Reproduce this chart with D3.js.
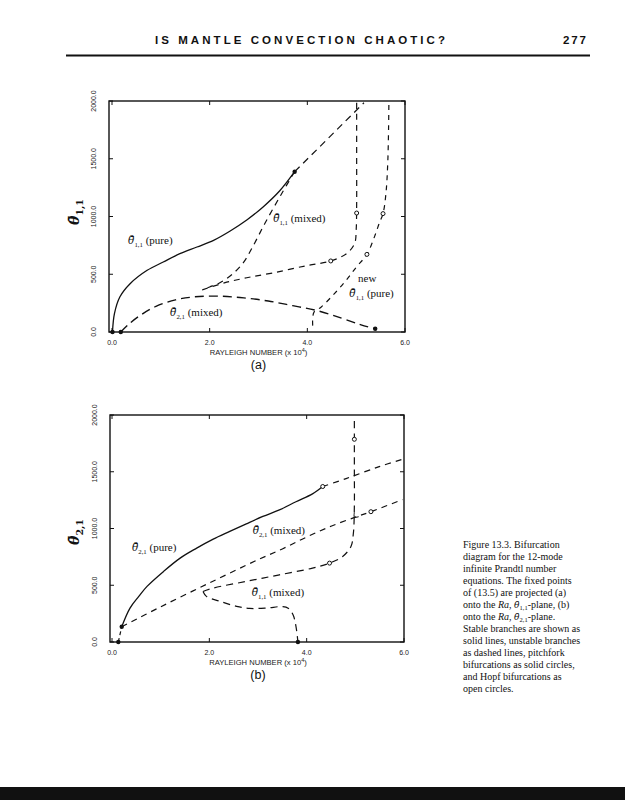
<!DOCTYPE html>
<html><head><meta charset="utf-8">
<script src="https://cdn.jsdelivr.net/npm/d3@7"></script>
<style>body{margin:0;background:#fff}</style>
</head><body>
<svg id="c" width="625" height="800"></svg>
<script>
// ---------- shared axis data ----------
const xTickValues = [0, 2, 4, 6];
const xTickLabels = ["0.0", "2.0", "4.0", "6.0"];
const yTickValues = [0, 500, 1000, 1500, 2000];
const yTickLabels = ["0.0", "500.0", "1000.0", "1500.0", "2000.0"];

// ---------- panel (a): Ra vs theta_1,1 ----------
const aPure11Stable = [[0.01,0],[0.05,159],[0.16,303],[0.37,418],[0.72,534],[1.05,606],[1.39,678],[1.74,736],[2.08,794],[2.42,875],[2.76,970],[3.1,1085],[3.44,1225],[3.74,1388]];
const aPure11Unstable = [[3.74,1388],[5.16,1985]];
const aMixed11Upper = [[3.74,1388],[3.45,1180],[3.13,940],[2.89,745],[2.69,600],[2.45,495],[2.2,425],[2.0,390],[1.85,365]];
const aMixed11Lower = [[1.85,365],[2.3,425],[2.76,470],[3.31,513],[3.99,575],[4.48,615],[4.81,681],[4.97,768],[5.0,883],[5.01,1100],[5.01,1500],[5.01,1985]];
const aMixed21 = [[0.18,0],[0.35,70],[0.6,150],[0.9,222],[1.3,278],[1.7,305],[2.2,310],[2.7,295],[3.2,268],[3.7,228],[4.2,185],[4.7,120],[5.1,62],[5.39,28]];
const aNewPure11 = [[4.11,55],[4.11,120],[4.14,175],[4.28,215],[4.55,330],[4.8,450],[5.0,560],[5.22,672],[5.38,830],[5.48,950],[5.55,1025],[5.61,1200],[5.65,1500],[5.67,1985]];
const aPitchfork = [[0.01,0],[0.18,0],[3.74,1388],[5.39,28]];
const aHopf = [[4.48,615],[5.01,1030],[5.22,672],[5.55,1025]];

// ---------- panel (b): Ra vs theta_2,1 ----------
const bStem = [[0.13,0],[0.2,135]];
const bPure21Stable = [[0.2,135],[0.37,299],[0.55,402],[0.72,490],[1.06,622],[1.4,739],[1.74,827],[2.08,906],[2.42,974],[2.76,1041],[3.1,1106],[3.44,1164],[3.78,1236],[4.12,1305],[4.33,1370]];
const bPure21Unstable = [[4.33,1370],[4.81,1440],[5.49,1545],[5.97,1610]];
const bMixed21 = [[0.2,135],[1.0,310],[2.0,520],[3.0,725],[3.5,820],[4.0,925],[4.5,1020],[5.0,1100],[5.32,1148],[5.97,1255]];
const bMixed11Upper = [[1.87,445],[2.08,475],[2.76,534],[3.44,592],[4.12,651],[4.47,695],[4.74,754],[4.91,842],[4.96,959],[4.98,1200],[4.98,1500],[4.98,1786],[4.98,1990]];
const bMixed11Lower = [[1.87,445],[1.94,402],[2.22,358],[2.56,314],[2.83,296],[3.17,299],[3.51,312],[3.62,298],[3.72,240],[3.78,138],[3.82,0]];
const bKink = [[4.98,1140],[4.98,1100],[5.07,1104]];
const bPitchfork = [[0.13,0],[0.2,135],[3.82,0]];
const bHopf = [[4.33,1370],[4.47,695],[4.98,1786],[5.32,1148]];

// ---------- caption ----------
const captionLines = [
  "Figure 13.3. Bifurcation",
  "diagram for the 12-mode",
  "infinite Prandtl number",
  "equations. The fixed points",
  "of (13.5) are projected (a)",
  "onto the |Ra|, θ̄|1,1|-plane, (b)",
  "onto the |Ra|, θ̄|2,1|-plane.",
  "Stable branches are shown as",
  "solid lines, unstable branches",
  "as dashed lines, pitchfork",
  "bifurcations as solid circles,",
  "and Hopf bifurcations as",
  "open circles."
];

const svg = d3.select("#c");
svg.append("rect").attr("width",625).attr("height",800).attr("fill","#fff");

// header
svg.append("text").attr("x",155).attr("y",44)
  .attr("font-family","Liberation Sans, Arial, sans-serif").attr("font-weight","bold")
  .attr("font-size",11.5).attr("textLength",290).attr("lengthAdjust","spacing")
  .attr("fill","#111").text("IS MANTLE CONVECTION CHAOTIC?");
svg.append("text").attr("x",563).attr("y",44)
  .attr("font-family","Liberation Sans, Arial, sans-serif").attr("font-weight","bold")
  .attr("font-size",11.5).attr("textLength",23).attr("lengthAdjust","spacing")
  .attr("fill","#111").text("277");
svg.append("line").attr("x1",66).attr("x2",590).attr("y1",55.5).attr("y2",55.5)
  .attr("stroke","#111").attr("stroke-width",2);

function thetaLabel(g, x, y, sub, rest, size) {
  const t = g.append("text").attr("x",x).attr("y",y)
    .attr("font-family","Liberation Serif, Times New Roman, serif")
    .attr("font-size",size).attr("fill","#111");
  t.append("tspan").attr("font-family","DejaVu Serif, serif").attr("font-style","italic")
    .attr("font-size",size*0.95).text("θ\u0304");
  t.append("tspan").attr("font-size",size*0.62).attr("dy",size*0.28).text(sub);
  if (rest) t.append("tspan").attr("dy",-size*0.28).text(rest);
  return t;
}

function panel(cfg) {
  const g = svg.append("g");
  const x = d3.scaleLinear().domain([0,6]).range([cfg.x0, cfg.x6]);
  const y = d3.scaleLinear().domain([0,2000]).range([cfg.y0, cfg.y2000]);
  const L = cfg.frameLeft, R = x(6), T = y(2000), B = y(0);

  g.append("rect").attr("x",L).attr("y",T).attr("width",R-L).attr("height",B-T)
    .attr("fill","none").attr("stroke","#111").attr("stroke-width",1.4);

  const tk = 4;
  xTickValues.forEach(v => {
    g.append("line").attr("x1",x(v)).attr("x2",x(v)).attr("y1",B).attr("y2",B-tk).attr("stroke","#111").attr("stroke-width",1);
    g.append("line").attr("x1",x(v)).attr("x2",x(v)).attr("y1",T).attr("y2",T+tk).attr("stroke","#111").attr("stroke-width",1);
  });
  yTickValues.forEach(v => {
    g.append("line").attr("x1",L).attr("x2",L+tk).attr("y1",y(v)).attr("y2",y(v)).attr("stroke","#111").attr("stroke-width",1);
    g.append("line").attr("x1",R).attr("x2",R-tk).attr("y1",y(v)).attr("y2",y(v)).attr("stroke","#111").attr("stroke-width",1);
  });

  xTickValues.forEach((v,i) => {
    g.append("text").attr("x",x(v)).attr("y",B+13).attr("text-anchor","middle")
      .attr("font-family","Liberation Sans, Arial, sans-serif").attr("font-size",7).attr("fill","#222")
      .text(xTickLabels[i]);
  });
  yTickValues.forEach((v,i) => {
    g.append("text").attr("transform",`translate(${L-13},${y(v)}) rotate(-90)`).attr("text-anchor","middle")
      .attr("font-family","Liberation Sans, Arial, sans-serif").attr("font-size",7).attr("fill","#222")
      .text(yTickLabels[i]);
  });

  const xt = g.append("text").attr("x",(x(0)+x(6))/2).attr("y",B+23).attr("text-anchor","middle")
    .attr("font-family","Liberation Sans, Arial, sans-serif").attr("font-size",7.6).attr("fill","#222");
  xt.append("tspan").text("RAYLEIGH NUMBER (x 10");
  xt.append("tspan").attr("font-size",5.5).attr("dy",-3).text("4");
  xt.append("tspan").attr("dy",3).text(")");
  g.append("text").attr("x",(x(0)+x(6))/2).attr("y",B+37).attr("text-anchor","middle")
    .attr("font-family","Liberation Sans, Arial, sans-serif").attr("font-size",12.5).attr("fill","#111")
    .text(cfg.tag);

  const yg = g.append("g").attr("transform",`translate(${cfg.yTitleX},${cfg.yTitleY}) rotate(-90)`);
  const yt = yg.append("text").attr("text-anchor","middle")
    .attr("font-family","DejaVu Serif, serif").attr("font-weight","bold").attr("font-size",14).attr("fill","#111");
  yt.append("tspan").attr("font-style","italic").text("θ\u0304");
  yt.append("tspan").attr("font-size",9.5).attr("dy",4).text(cfg.ySub);

  const line = d3.line().x(d=>x(d[0])).y(d=>y(d[1])).curve(d3.curveCatmullRom.alpha(0.5));
  cfg.series.forEach(s => {
    g.append("path").attr("d",line(s.data)).attr("fill","none").attr("stroke","#111")
      .attr("stroke-width",s.w||1.2).attr("stroke-dasharray",s.dash||null);
  });

  cfg.pitchfork.forEach(p => {
    g.append("circle").attr("cx",x(p[0])).attr("cy",y(p[1])).attr("r",2.2).attr("fill","#111");
  });
  cfg.hopf.forEach(p => {
    g.append("circle").attr("cx",x(p[0])).attr("cy",y(p[1])).attr("r",2).attr("fill","#fff")
      .attr("stroke","#111").attr("stroke-width",1);
  });

  cfg.labels.forEach(l => {
    if (l.plain) {
      g.append("text").attr("x",x(l.at[0])).attr("y",y(l.at[1]))
        .attr("font-family","Liberation Serif, Times New Roman, serif").attr("font-size",11).attr("fill","#111").text(l.plain);
    } else {
      thetaLabel(g, x(l.at[0]), y(l.at[1]), l.sub, l.rest, 11);
    }
  });
}

panel({
  x0:112, x6:405, y0:332, y2000:101, frameLeft:109, tag:"(a)",
  yTitleX:79, yTitleY:212, ySub:"1,1",
  series:[
    {data:aPure11Stable, w:1.3},
    {data:aPure11Unstable, dash:"7,5"},
    {data:aMixed11Upper, dash:"6,5"},
    {data:aMixed11Lower, dash:"6,5"},
    {data:aMixed21, dash:"9,5", w:1.4},
    {data:aNewPure11, dash:"5,5"}
  ],
  pitchfork:aPitchfork, hopf:aHopf,
  labels:[
    {at:[0.33,762], sub:"1,1", rest:" (pure)"},
    {at:[3.3,952], sub:"1,1", rest:" (mixed)"},
    {at:[1.19,139], sub:"2,1", rest:" (mixed)"},
    {at:[5.04,433], plain:"new"},
    {at:[4.86,303], sub:"1,1", rest:" (pure)"}
  ]
});

panel({
  x0:112, x6:404, y0:642, y2000:415, frameLeft:110, tag:"(b)",
  yTitleX:79, yTitleY:532, ySub:"2,1",
  series:[
    {data:bStem, dash:"4,3"},
    {data:bPure21Stable, w:1.3},
    {data:bPure21Unstable, dash:"6,5"},
    {data:bMixed21, dash:"6,5"},
    {data:bMixed11Upper, dash:"7,5"},
    {data:bMixed11Lower, dash:"7,5"},
    {data:bKink, w:1}
  ],
  pitchfork:bPitchfork, hopf:bHopf,
  labels:[
    {at:[0.41,802], sub:"2,1", rest:" (pure)"},
    {at:[2.89,952], sub:"2,1", rest:" (mixed)"},
    {at:[2.87,405], sub:"1,1", rest:" (mixed)"}
  ]
});

// caption
const cap = svg.append("text").attr("font-family","Liberation Serif, Times New Roman, serif")
  .attr("font-size",10).attr("fill","#111");
captionLines.forEach((ln,i) => {
  const parts = ln.split("|");
  const first = cap.append("tspan").attr("x",463).attr("y",548 + i*12);
  first.text(parts[0]);
  if (parts.length > 1) {
    cap.append("tspan").attr("font-style","italic").text(parts[1]);
    cap.append("tspan").text(parts[2].replace("θ\u0304",""));
    cap.append("tspan").attr("font-family","DejaVu Serif, serif").attr("font-style","italic").attr("font-size",9).text("θ\u0304");
    cap.append("tspan").attr("font-size",6.5).attr("dy",2).text(parts[3]);
    cap.append("tspan").attr("dy",-2).text(parts[4]);
  }
});

svg.append("rect").attr("x",0).attr("y",787).attr("width",625).attr("height",13).attr("fill","#111");
</script>
</body></html>
